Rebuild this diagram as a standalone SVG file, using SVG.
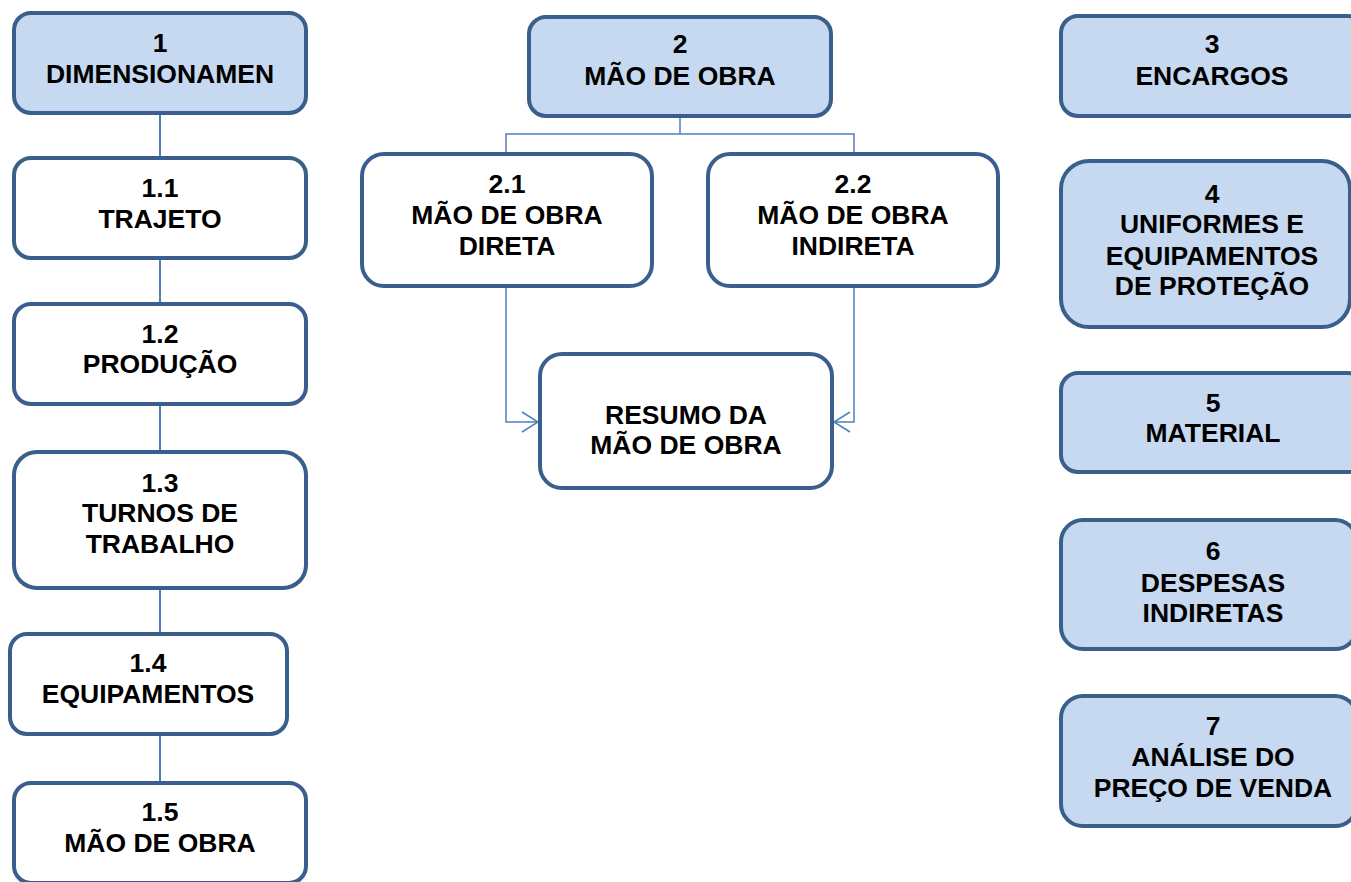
<svg xmlns="http://www.w3.org/2000/svg" width="1351" height="882" viewBox="0 0 1351 882">
<style>
.box{fill:#FFFFFF;stroke:#3A5F8C;stroke-width:4}
.fill{fill:#C6D9F1}
.t{font-family:"Liberation Sans",Arial,sans-serif;font-weight:bold;font-size:26.5px;fill:#000;text-anchor:middle}
.c{fill:none;stroke:#4F81BD;stroke-width:2}
.c2{fill:none;stroke:#4F81BD;stroke-width:1.5}
</style>
<defs>
<marker id="arr" viewBox="0 0 20 24" refX="18" refY="12" markerWidth="20" markerHeight="24" markerUnits="userSpaceOnUse" orient="auto">
<path d="M2,2 L18,12 L2,22" fill="none" stroke="#4F81BD" stroke-width="1.5"/>
</marker>
</defs>
<rect width="1351" height="882" fill="#FFFFFF"/>
<g id="connectors">
<line class="c" x1="160" y1="115" x2="160" y2="156"/>
<line class="c" x1="160" y1="260" x2="160" y2="302"/>
<line class="c" x1="160" y1="406" x2="160" y2="450"/>
<line class="c" x1="160" y1="590" x2="160" y2="632"/>
<line class="c" x1="160" y1="736" x2="160" y2="781"/>
<path class="c2" d="M680,118 V134 M506,153 V134 H854 V153"/>
<path class="c2" d="M506,288 V422 H538" marker-end="url(#arr)"/>
<path class="c2" d="M854,288 V422 H834" marker-end="url(#arr)"/>
</g>
<g id="n1">
<rect class="box fill" x="14" y="13" width="292" height="100" rx="17"/>
<text class="t" x="160" y="52">1</text>
<text class="t" x="160" y="83">DIMENSIONAMEN</text>
</g>
<g id="n1_1">
<rect class="box" x="14" y="158" width="292" height="100" rx="17"/>
<text class="t" x="160" y="197">1.1</text>
<text class="t" x="160" y="228">TRAJETO</text>
</g>
<g id="n1_2">
<rect class="box" x="14" y="304" width="292" height="100" rx="17"/>
<text class="t" x="160" y="343">1.2</text>
<text class="t" x="160" y="373">PRODUÇÃO</text>
</g>
<g id="n1_3">
<rect class="box" x="14" y="452" width="292" height="136" rx="23"/>
<text class="t" x="160" y="492">1.3</text>
<text class="t" x="160" y="522">TURNOS DE</text>
<text class="t" x="160" y="553">TRABALHO</text>
</g>
<g id="n1_4">
<rect class="box" x="10" y="634" width="277" height="100" rx="17"/>
<text class="t" x="148" y="672">1.4</text>
<text class="t" x="148" y="703">EQUIPAMENTOS</text>
</g>
<g id="n1_5">
<rect class="box" x="14" y="783" width="292" height="100" rx="17"/>
<text class="t" x="160" y="821">1.5</text>
<text class="t" x="160" y="852">MÃO DE OBRA</text>
</g>
<g id="n2">
<rect class="box fill" x="529" y="17" width="302" height="99" rx="17"/>
<text class="t" x="680" y="53">2</text>
<text class="t" x="680" y="85">MÃO DE OBRA</text>
</g>
<g id="n2_1">
<rect class="box" x="362" y="154" width="290" height="132" rx="22"/>
<text class="t" x="507" y="193">2.1</text>
<text class="t" x="507" y="224">MÃO DE OBRA</text>
<text class="t" x="507" y="255">DIRETA</text>
</g>
<g id="n2_2">
<rect class="box" x="708" y="154" width="290" height="132" rx="22"/>
<text class="t" x="853" y="193">2.2</text>
<text class="t" x="853" y="224">MÃO DE OBRA</text>
<text class="t" x="853" y="255">INDIRETA</text>
</g>
<g id="resumo">
<rect class="box" x="540" y="354" width="292" height="134" rx="22"/>
<text class="t" x="686" y="424">RESUMO DA</text>
<text class="t" x="686" y="454">MÃO DE OBRA</text>
</g>
<g id="n3">
<rect class="box fill" x="1061" y="16" width="304" height="100" rx="17"/>
<text class="t" x="1212" y="53">3</text>
<text class="t" x="1212" y="85">ENCARGOS</text>
</g>
<g id="n4">
<rect class="box fill" x="1061" y="161" width="289" height="166" rx="28"/>
<text class="t" x="1212" y="203">4</text>
<text class="t" x="1212" y="233">UNIFORMES E</text>
<text class="t" x="1212" y="265">EQUIPAMENTOS</text>
<text class="t" x="1212" y="295">DE PROTEÇÃO</text>
</g>
<g id="n5">
<rect class="box fill" x="1061" y="373" width="304" height="99" rx="17"/>
<text class="t" x="1213" y="412">5</text>
<text class="t" x="1213" y="442">MATERIAL</text>
</g>
<g id="n6">
<rect class="box fill" x="1061" y="520" width="296" height="129" rx="22"/>
<text class="t" x="1213" y="560">6</text>
<text class="t" x="1213" y="592">DESPESAS</text>
<text class="t" x="1213" y="622">INDIRETAS</text>
</g>
<g id="n7">
<rect class="box fill" x="1061" y="696" width="296" height="130" rx="22"/>
<text class="t" x="1213" y="735">7</text>
<text class="t" x="1213" y="766">ANÁLISE DO</text>
<text class="t" x="1213" y="797">PREÇO DE VENDA</text>
</g>
</svg>
